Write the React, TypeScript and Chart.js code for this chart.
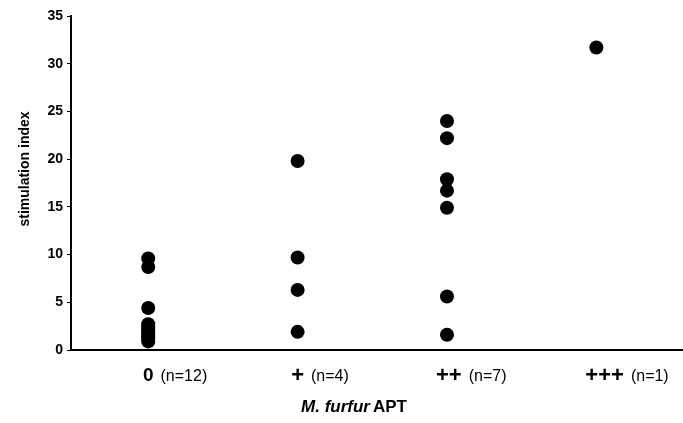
import { useEffect, useRef } from "react";
import { Chart, registerables } from "chart.js";

Chart.register(...registerables);

const categories = ["0", "+", "++", "+++"];
const counts = ["(n=12)", "(n=4)", "(n=7)", "(n=1)"];
const group0 = [9.6, 8.7, 4.4, 2.7, 2.4, 2.2, 2.0, 1.8, 1.6, 1.4, 1.2, 0.9];
const group1 = [19.8, 9.7, 6.3, 1.9];
const group2 = [24.0, 22.2, 17.9, 16.7, 14.9, 5.6, 1.6];
const group3 = [31.7];
const groups = [group0, group1, group2, group3];
const yTickValues = [0, 5, 10, 15, 20, 25, 30, 35];
const yTitle = "stimulation index";
const xTitleItalic = "M. furfur";
const xTitleRest = "APT";

const FONT = "'Liberation Sans', Arial, sans-serif";

const labelPlugin = {
  id: "customLabels",
  afterDraw(chart: any) {
    const ctx = chart.ctx;
    const xs = chart.scales.x;
    const area = chart.chartArea;
    ctx.save();
    ctx.fillStyle = "#000";
    ctx.textBaseline = "middle";
    ctx.textAlign = "left";
    categories.forEach((c, i) => {
      const px = xs.getPixelForValue(i);
      const isPlus = /^\++$/.test(c);
      ctx.font = `bold ${isPlus ? 22 : 19}px ${FONT}`;
      const w = ctx.measureText(c).width;
      const left = px - Math.min(w / 2, 11);
      ctx.fillText(c, left, area.bottom + 26);
      ctx.font = `16px ${FONT}`;
      ctx.fillText(counts[i], left + w + 7, area.bottom + 27);
    });
    // x title
    ctx.font = `italic bold 17px ${FONT}`;
    const w1 = ctx.measureText(xTitleItalic).width;
    ctx.font = `bold 17px ${FONT}`;
    const w2 = ctx.measureText(xTitleRest).width;
    const gap = 3;
    const total = w1 + gap + w2;
    const cx = area.left + 283;
    const start = cx - total / 2;
    const ty = area.bottom + 57;
    ctx.font = `italic bold 17px ${FONT}`;
    ctx.fillText(xTitleItalic, start, ty);
    ctx.font = `bold 17px ${FONT}`;
    ctx.fillText(xTitleRest, start + w1 + gap, ty);
    // y title
    ctx.translate(25, 169);
    ctx.rotate(-Math.PI / 2);
    ctx.textAlign = "center";
    ctx.font = `bold 14px ${FONT}`;
    ctx.fillText(yTitle, 0, 0);
    ctx.restore();
  },
};

export default function App() {
  const ref = useRef<HTMLCanvasElement>(null);
  useEffect(() => {
    document.body.style.margin = "0";
    const points = groups.flatMap((g, i) => g.map((v) => ({ x: i, y: v })));
    const chart = new Chart(ref.current!, {
      type: "scatter",
      data: {
        datasets: [
          {
            data: points,
            backgroundColor: "#000",
            borderColor: "#000",
            pointRadius: 7,
            pointHoverRadius: 7,
            borderWidth: 0,
          },
        ],
      },
      options: {
        responsive: false,
        animation: false,
        events: [],
        layout: { autoPadding: false, padding: { top: 16, right: 0, left: 0, bottom: 0 } },
        plugins: { legend: { display: false }, tooltip: { enabled: false } },
        scales: {
          x: {
            type: "linear",
            min: -0.517,
            max: 3.58,
            grid: { display: false },
            ticks: { display: false },
            border: { display: true, color: "#000", width: 2 },
            afterFit: (s: any) => {
              s.height = 73;
            },
          },
          y: {
            min: 0,
            max: 35,
            afterBuildTicks: (s: any) => {
              s.ticks = yTickValues.map((v) => ({ value: v }));
            },
            ticks: {
              color: "#000",
              font: { family: FONT, size: 14, weight: "bold" },
              padding: 4,
            },
            grid: {
              drawOnChartArea: false,
              tickLength: 4,
              color: "#000",
              tickWidth: 1,
            },
            border: { display: true, color: "#000", width: 2 },
            afterFit: (s: any) => {
              s.width = 71;
            },
          },
        },
      },
      plugins: [labelPlugin],
    });
    return () => chart.destroy();
  }, []);
  return (
    <div style={{ width: 683, height: 423, background: "#fff" }}>
      <canvas ref={ref} width={683} height={423} />
    </div>
  );
}
